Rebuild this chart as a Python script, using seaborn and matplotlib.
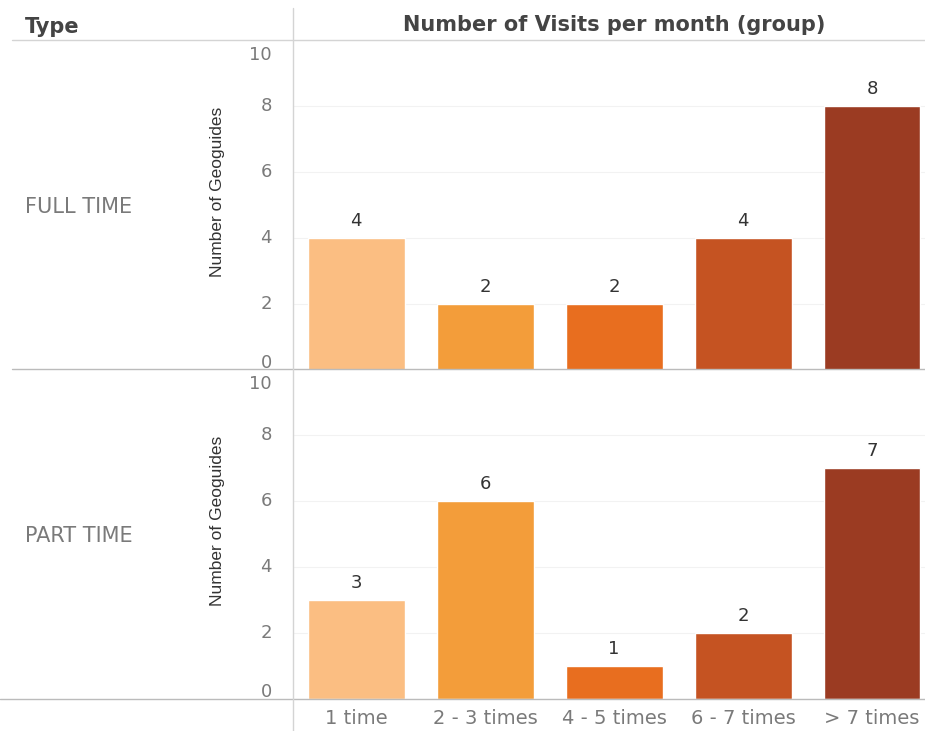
import matplotlib
matplotlib.use("Agg")
import matplotlib.pyplot as plt
from matplotlib import font_manager
from matplotlib.lines import Line2D
import seaborn as sns
import pandas as pd

categories = ["1 time", "2 - 3 times", "4 - 5 times", "6 - 7 times", "> 7 times"]
full_time = [4, 2, 2, 4, 8]
part_time = [3, 6, 1, 2, 7]
row_labels = ["FULL TIME", "PART TIME"]
y_ticks = [0, 2, 4, 6, 8, 10]
colors = ["#FBBE82", "#F39D3A", "#E86E1F", "#C55322", "#9B3B22"]

sns.set_theme(style="white")
names = {f.name for f in font_manager.fontManager.ttflist}
narrow_font = "Liberation Sans Narrow" if "Liberation Sans Narrow" in names else "Liberation Sans"
plt.rcParams["font.family"] = ["DejaVu Sans"]

W, H = 925, 731
fig = plt.figure(figsize=(W / 100, H / 100), dpi=100)
fig.patch.set_facecolor("white")

def fx(px):
    return px / W

def fy(py):
    return 1 - py / H

tick_grey = "#7a7a7a"
line_grey = "#d4d4d4"

panels = [(40, 370, full_time), (369, 699, part_time)]
for i, (top, bottom, vals) in enumerate(panels):
    ax = fig.add_axes([fx(293), fy(bottom), fx(925 - 293), (bottom - top) / H])
    df = pd.DataFrame({"cat": categories, "val": vals})
    sns.barplot(data=df, x="cat", y="val", hue="cat", palette=colors,
                order=categories, hue_order=categories, width=0.75,
                legend=False, ax=ax, saturation=1)
    ax.set_xlim(-0.49, 4.41)
    ax.set_ylim(0, 10)
    ax.set_yticks(y_ticks)
    ax.set_yticklabels([])
    ax.tick_params(axis="y", length=0)
    # tick labels, edge labels nudged inward as in the original
    for t in y_ticks:
        dy = 0
        if t == 10:
            dy = -15
        elif t == 0:
            dy = 7
        ax.annotate(str(t), xy=(0, t), xycoords=("axes fraction", "data"),
                    xytext=(-21, dy), textcoords="offset pixels",
                    ha="right", va="center", fontsize=13, color=tick_grey)
    ax.yaxis.grid(True, color="#f2f2f2", linewidth=0.8)
    ax.set_axisbelow(True)
    for s in ax.spines.values():
        s.set_visible(False)
    ax.set_xlabel("")
    ax.set_ylabel("Number of Geoguides", family=[narrow_font, "DejaVu Sans"],
                  fontsize=12.5, color="#333333")
    ax.yaxis.set_label_coords(-0.108, 0.54)
    for c in ax.containers:
        ax.bar_label(c, padding=6, fontsize=13, color="#333333", fmt="%d")
    if i == 0:
        ax.set_xticks([])
    else:
        ax.tick_params(axis="x", length=0, pad=7, labelsize=14, labelcolor=tick_grey)
    ax.patch.set_alpha(0)
    fig.text(fx(25), fy((top + bottom) / 2 + 2), row_labels[i], fontsize=15,
             color="#7a7a7a", va="center", ha="left")

# header
fig.text(fx(25), fy(27), "Type", fontsize=15, fontweight="bold", color="#444444",
         va="center", ha="left")
fig.text(fx(614), fy(25), "Number of Visits per month (group)", fontsize=15,
         fontweight="bold", color="#444444", va="center", ha="center")

# lines
fig.add_artist(Line2D([fx(12), fx(925)], [fy(40), fy(40)], color=line_grey, lw=1))
fig.add_artist(Line2D([fx(12), fx(925)], [fy(369), fy(369)], color="#bbbbbb", lw=1))
fig.add_artist(Line2D([fx(0), fx(925)], [fy(699), fy(699)], color="#bbbbbb", lw=1))
fig.add_artist(Line2D([fx(293), fx(293)], [fy(8), fy(731)], color=line_grey, lw=1))

fig.savefig("out.png", dpi=100, facecolor="white")
